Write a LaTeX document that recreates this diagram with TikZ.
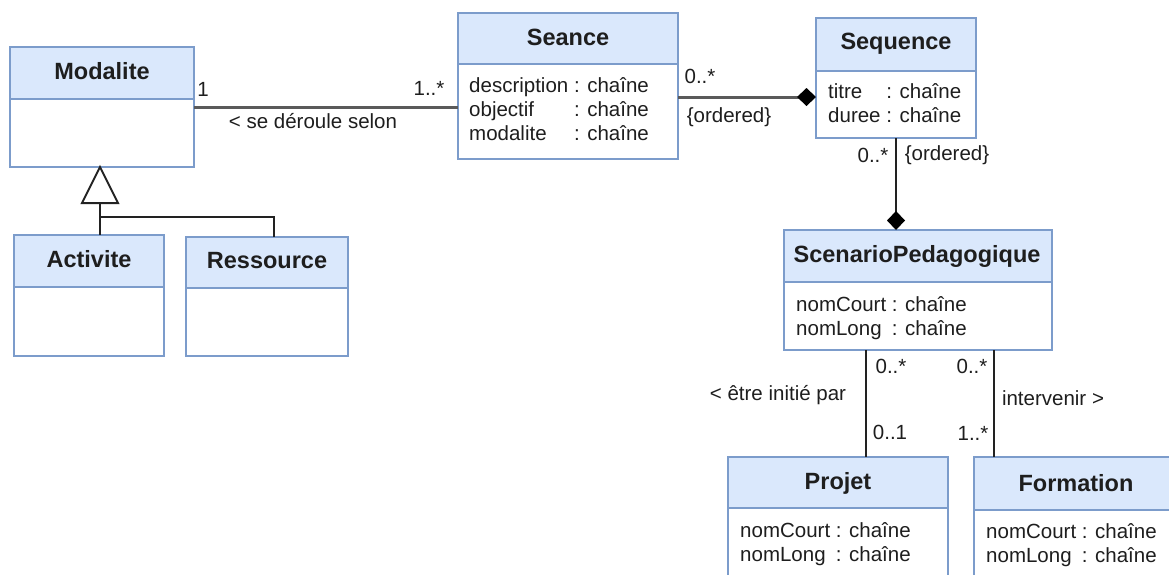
\documentclass[tikz,border=0pt]{standalone}
\usepackage{fontspec}
\setmainfont{Liberation Sans}
\usetikzlibrary{arrows.meta,calc}
\definecolor{hdrc}{HTML}{DAE8FC}
\definecolor{bordc}{HTML}{7C9CCB}
\definecolor{txtc}{HTML}{1E1E1E}
\definecolor{linec}{HTML}{5A5A5A}
\definecolor{darkc}{HTML}{222222}
\begin{document}
\begin{tikzpicture}[x=1pt,y=-1pt,
  box/.style={draw=bordc, line width=1.6pt, inner sep=0pt, outer sep=0pt, anchor=north west},
  ttl/.style={font=\bfseries\fontsize{23.5}{27}\selectfont, text=txtc, inner sep=0pt},
  attr/.style={font=\fontsize{20.5}{24}\selectfont, text=txtc, anchor=base west, inner sep=0pt},
  lbl/.style={font=\fontsize{20.5}{24}\selectfont, text=txtc, inner sep=0pt},
  assoc/.style={draw=linec, line width=3pt},
  vline/.style={draw=darkc, line width=2.4pt},
  genline/.style={draw=darkc, line width=2pt},
  comp/.style={-{Diamond[length=19pt,width=18pt,color=black,fill=black]}},
]
\clip (0,0) rectangle (1169,574);
\fill[white] (0,0) rectangle (1169,574);

% ---------- headers ----------
\fill[hdrc] (10,47) rectangle (194,99);
\fill[hdrc] (14,235) rectangle (164,287);
\fill[hdrc] (186,237) rectangle (348,288);
\fill[hdrc] (458,13) rectangle (678,64);
\fill[hdrc] (816,18) rectangle (976,71);
\fill[hdrc] (784,230) rectangle (1052,282);
\fill[hdrc] (728,457) rectangle (948,508);
\fill[hdrc] (974,457) rectangle (1190,510);
\draw[bordc, line width=1.6pt] (10,99) -- (194,99);
\draw[bordc, line width=1.6pt] (14,287) -- (164,287);
\draw[bordc, line width=1.6pt] (186,288) -- (348,288);
\draw[bordc, line width=1.6pt] (458,64) -- (678,64);
\draw[bordc, line width=1.6pt] (816,71) -- (976,71);
\draw[bordc, line width=1.6pt] (784,282) -- (1052,282);
\draw[bordc, line width=1.6pt] (728,508) -- (948,508);
\draw[bordc, line width=1.6pt] (974,510) -- (1190,510);

% ---------- class boxes ----------
\node[box, minimum width=184pt, minimum height=120pt] (modalite) at (10,47) {};
\node[box, minimum width=150pt, minimum height=121pt] (activite) at (14,235) {};
\node[box, minimum width=162pt, minimum height=119pt] (ressource) at (186,237) {};
\node[box, minimum width=220pt, minimum height=146pt] (seance) at (458,13) {};
\node[box, minimum width=160pt, minimum height=120pt] (sequence) at (816,18) {};
\node[box, minimum width=268pt, minimum height=120pt] (scenario) at (784,230) {};
\node[box, minimum width=220pt, minimum height=150pt] (projet) at (728,457) {};
\node[box, minimum width=216pt, minimum height=150pt] (formation) at (974,457) {};

% ---------- titles ----------
\node[ttl] (modaliteT) at (102,71) {Modalite};
\node[ttl] (activiteT) at (89,259) {Activite};
\node[ttl] (ressourceT) at (267,261) {Ressource};
\node[ttl] (seanceT) at (568,37) {Seance};
\node[ttl] (sequenceT) at (896,44) {Sequence};
\node[ttl] (scenarioT) at (917,256) {ScenarioPedagogique};
\node[ttl] (projetT) at (838,483) {Projet};
\node[ttl] (formationT) at (1076,483) {Formation};

% ---------- attributes ----------
\node[attr] (seanceA) at (469,92) {\begin{tabular}[t]{@{}l@{\ }l@{}}description & : chaîne\\ objectif & : chaîne\\ modalite & : chaîne\end{tabular}};
\node[attr] (sequenceA) at (828,98) {\begin{tabular}[t]{@{}l@{\ }l@{}}titre & : chaîne\\ duree & : chaîne\end{tabular}};
\node[attr] (scenarioA) at (796,311) {\begin{tabular}[t]{@{}l@{\ }l@{}}nomCourt & : chaîne\\ nomLong & : chaîne\end{tabular}};
\node[attr] (projetA) at (740,537) {\begin{tabular}[t]{@{}l@{\ }l@{}}nomCourt & : chaîne\\ nomLong & : chaîne\end{tabular}};
\node[attr] (formationA) at (986,538) {\begin{tabular}[t]{@{}l@{\ }l@{}}nomCourt & : chaîne\\ nomLong & : chaîne\end{tabular}};

% ---------- generalization ----------
\coordinate (apex) at (100,167);
\coordinate (tbase) at (100,203);
\coordinate (join) at (100,217);
\coordinate (rjoin) at (274,217);
\draw[genline] (tbase) -- (tbase |- activite.north);
\draw[genline] (join) -- (rjoin) -- (rjoin |- ressource.north);
\draw[genline, fill=white, line join=miter] (apex) -- ++(18,36) -- ++(-36,0) -- cycle;

% ---------- associations ----------
\draw[assoc] (modalite.east) -- (modalite.east -| seance.west);
\coordinate (sq1) at ($(seance.east)+(0,11)$);
\draw[assoc, comp] (sq1) -- (sq1 -| sequence.west);
\draw[vline, comp] (sequence.south) -- (sequence.south |- scenario.north);
\coordinate (sp) at ($(scenario.south)+(-52,0)$);
\draw[vline] (sp) -- (sp |- projet.north);
\coordinate (sf) at ($(scenario.south)+(76,0)$);
\draw[vline] (sf) -- (sf |- formation.north);

% ---------- labels ----------
\node[lbl] (l1) at (203,89) {1};
\node[lbl] (l2) at (429,88) {1..*};
\node[lbl] (l3) at (313,121) {< se déroule selon};
\node[lbl] (l4) at (700,76) {0..*};
\node[lbl] (l5) at (729,117) {\{ordered\}};
\node[lbl] (l6) at (873,155) {0..*};
\node[lbl] (l7) at (947,155) {\{ordered\}};
\node[lbl] (l8) at (891,366) {0..*};
\node[lbl] (l9) at (890,432) {0..1};
\node[lbl] (l10) at (972,366) {0..*};
\node[lbl] (l11) at (973,433) {1..*};
\node[lbl] (l12) at (778,395) {< être initié par};
\node[lbl] (l13) at (1053,398) {intervenir >};
\end{tikzpicture}
\end{document}
